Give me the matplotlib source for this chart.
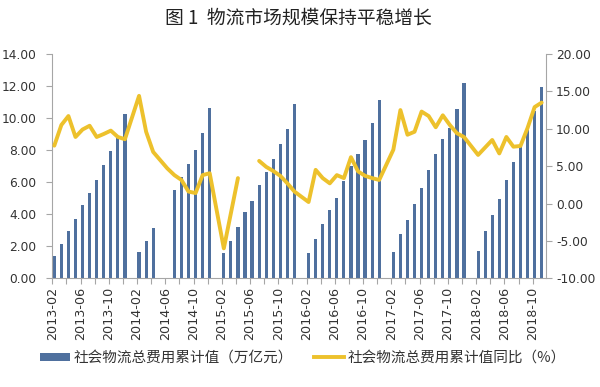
import numpy as np
import pandas as pd
import matplotlib
matplotlib.use("Agg")
import matplotlib.pyplot as plt
from matplotlib.lines import Line2D
from matplotlib.patches import Patch

plt.rcParams['font.family'] = ['Noto Sans CJK SC', 'DejaVu Sans']

months = [str(p) for p in pd.period_range('2013-02', '2018-11', freq='M')]

N = None
cost_cum = [
    # 2013 Feb-Dec
    1.41, 2.14, 2.95, 3.70, 4.56, 5.32, 6.14, 7.05, 7.95, 8.84, 10.26,
    # 2014
    N, 1.66, 2.35, 3.16, N, N, 5.51, 6.30, 7.11, 8.01, 9.05, 10.62,
    # 2015
    N, 1.56, 2.33, 3.22, 4.12, 4.85, 5.84, 6.62, 7.45, 8.38, 9.32, 10.86,
    # 2016
    N, 1.56, 2.45, 3.39, 4.26, 5.03, 6.07, 7.01, 7.74, 8.63, 9.68, 11.13,
    # 2017
    N, 1.66, 2.77, 3.64, 4.62, 5.66, 6.76, 7.74, 8.68, 9.40, 10.57, 12.17,
    # 2018 Jan-Nov
    N, 1.70, 2.95, 3.93, 4.95, 6.14, 7.24, 8.21, 9.26, 10.44, 11.96,
]

cost_yoy = [
    # 2013 Feb-Dec
    7.74, 10.5, 11.7, 8.9, 9.9, 10.4, 8.9, 9.3, 9.75, 8.9, 8.6,
    # 2014
    N, 14.4, 9.6, 6.9, 5.8, 4.7, 3.8, 3.15, 1.6, 1.4, 3.8, 4.05,
    # 2015
    N, -6.0, -1.3, 3.4, N, N, 5.7, 4.9, 4.35, 3.7, 2.7, 1.6,
    # 2016
    N, 0.2, 4.5, 3.4, 2.7, 3.8, 3.4, 6.2, 4.3, 3.7, 3.4, 3.15,
    # 2017
    N, 7.2, 12.5, 9.2, 9.6, 12.3, 11.7, 10.2, 11.8, 10.5, 9.4, 8.9,
    # 2018 Jan-Nov
    N, 6.5, 7.5, 8.5, 6.7, 8.9, 7.6, 7.7, 10.1, 12.9, 13.5,
]

title = "图 1  物流市场规模保持平稳增长"
bar_label = "社会物流总费用累计值（万亿元）"
line_label = "社会物流总费用累计值同比（%）"

BAR_C = '#4F709E'
LINE_C = '#EDC12C'
AX_C = '#A6A6A6'
TXT_C = '#333333'

x = np.arange(len(months))
bars = np.array([np.nan if v is None else v for v in cost_cum], dtype=float)
yoy = np.array([np.nan if v is None else v for v in cost_yoy], dtype=float)

fig = plt.figure(figsize=(6.0, 3.87), dpi=100)
ax = fig.add_axes([0.0872, 0.2809, 0.9095 - 0.0872, 0.8605 - 0.2809])
ax2 = ax.twinx()

ax.bar(x, np.nan_to_num(bars), width=0.45, color=BAR_C, zorder=2)

# line: connect over single missing months, break over longer gaps
valid = ~np.isnan(yoy)
segs = []
cur = []
gap = 0
for i in range(len(x)):
    if valid[i]:
        if gap >= 2 and cur:
            segs.append(cur)
            cur = []
        cur.append(i)
        gap = 0
    else:
        gap += 1
if cur:
    segs.append(cur)
for s in segs:
    s = np.array(s)
    ax2.plot(x[s], yoy[s], color=LINE_C, lw=2.8, solid_joinstyle='round',
             solid_capstyle='round', zorder=3)

ax.set_xlim(-0.28, 69.57)
ax.set_ylim(0, 14)
ax2.set_ylim(-10, 20)
ax.set_yticks(np.arange(0, 14.01, 2))
ax.set_yticklabels([f"{v:.2f}" for v in np.arange(0, 14.01, 2)])
ax2.set_yticks(np.arange(-10, 20.01, 5))
ax2.set_yticklabels([f"{v:.2f}" for v in np.arange(-10, 20.01, 5)])

major = x[::4]
ax.set_xticks(major - 0.28)
ax.set_xticklabels([months[i] for i in major], rotation=90)
ax.set_xticks(x[2::4] - 0.28, minor=True)

for a in (ax, ax2):
    a.spines['top'].set_visible(False)
    a.spines['left'].set_color(AX_C)
    a.spines['right'].set_color(AX_C)
    a.spines['bottom'].set_color(AX_C)
    a.tick_params(colors=AX_C, labelcolor=TXT_C, labelsize=8.8, length=4,
                  width=0.8, direction='out', which='both')
    for lab in a.get_yticklabels() + a.get_xticklabels():
        lab.set_family('DejaVu Sans')
ax.tick_params(axis='x', labelsize=9.2, pad=2)
ax.tick_params(axis='y', pad=7.5)
ax2.tick_params(axis='y', pad=3.5)
ax.spines['right'].set_visible(False)
ax2.spines['left'].set_visible(False)
ax2.spines['bottom'].set_visible(False)

fig.text(0.497, 0.953, title, ha='center', va='center', fontsize=13.5,
         color='#222222')

handles = [Patch(facecolor=BAR_C, edgecolor='none'),
           Line2D([0], [0], color=LINE_C, lw=2.8)]
fig.legend(handles, [bar_label, line_label], loc='center',
           bbox_to_anchor=(0.505, 0.075), ncol=2, frameon=False,
           fontsize=10.5, handlelength=2.0, handleheight=0.5,
           columnspacing=1.5, handletextpad=0.25, labelcolor=TXT_C)

fig.savefig('out.png', dpi=100, facecolor='white')
